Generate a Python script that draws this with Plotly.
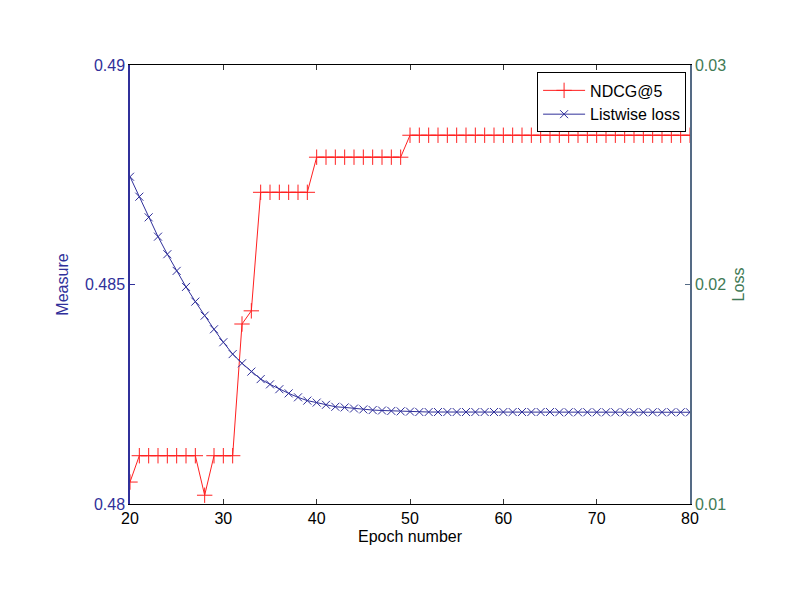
import plotly.graph_objects as go

epochs = list(range(20, 81))

ndcg5 = ([0.4805] + [0.4811] * 7 + [0.4802] + [0.4811] * 3 + [0.4841, 0.4844]
         + [0.4871] * 6 + [0.4879] * 10 + [0.4884] * 31)

listwise_loss = [0.02491, 0.02400, 0.02306, 0.02218, 0.02138, 0.02062, 0.01989,
                 0.01922, 0.01858, 0.01796, 0.01737, 0.01683, 0.01641, 0.01603,
                 0.01569, 0.01545, 0.01523, 0.01504, 0.01486, 0.01471, 0.01462,
                 0.01452, 0.01443, 0.01440, 0.01435, 0.01431, 0.01428, 0.01426,
                 0.01424, 0.01422, 0.01421] + [0.01419] * 15 + [0.01418] * 15

x_ticks = [20, 30, 40, 50, 60, 70, 80]
left_ticks = [0.48, 0.485, 0.49]
left_ticklabels = ["0.48", "0.485", "0.49"]
right_ticks = [0.01, 0.02, 0.03]
right_ticklabels = ["0.01", "0.02", "0.03"]

BLUE = "#30309a"
GREEN = "#3f7a55"
SLATE = "#556b85"
FONT = "Liberation Sans, Arial, sans-serif"

fig = go.Figure()
fig.add_trace(go.Scatter(
    x=epochs, y=ndcg5, name="NDCG@5", mode="lines+markers",
    line=dict(color="#ff2020", width=1),
    marker=dict(symbol="cross-thin", size=11, line=dict(color="#ff2020", width=1)),
    yaxis="y"))
fig.add_trace(go.Scatter(
    x=epochs, y=listwise_loss, name="Listwise loss", mode="lines+markers",
    line=dict(color=BLUE, width=1),
    marker=dict(symbol="x-thin", size=8, line=dict(color=BLUE, width=1)),
    yaxis="y2"))

fig.update_layout(
    width=805, height=608,
    margin=dict(l=130, r=115, t=65, b=104),
    paper_bgcolor="white", plot_bgcolor="white",
    font=dict(family=FONT, size=16, color="black"),
    showlegend=True,
    legend=dict(x=0.993, y=0.983, xanchor="right", yanchor="top",
                bgcolor="white", bordercolor="black", borderwidth=1,
                font=dict(family=FONT, size=16), tracegroupgap=0, itemwidth=42),
    xaxis=dict(range=[20, 80], tickvals=x_ticks, ticks="inside", ticklen=5,
               tickcolor="#333", showline=True, linecolor="black", linewidth=1,
               mirror="ticks", showgrid=False, zeroline=False,
               title=dict(text="Epoch number", standoff=4,
                          font=dict(family=FONT, size=16, color="black")),
               tickfont=dict(family=FONT, size=16, color="black")),
    yaxis=dict(range=[0.48, 0.49], tickvals=left_ticks, ticktext=left_ticklabels,
               ticks="inside", ticklen=5, tickcolor=BLUE,
               showline=True, linecolor=BLUE, linewidth=1.5,
               showgrid=False, zeroline=False,
               tickfont=dict(family=FONT, size=16, color=BLUE),
               title=dict(text="Measure", font=dict(family=FONT, size=16, color=BLUE),
                          standoff=12)),
    yaxis2=dict(range=[0.01, 0.03], tickvals=right_ticks, ticktext=right_ticklabels,
                overlaying="y", side="right", anchor="x",
                ticks="inside", ticklen=5, tickcolor=SLATE,
                showline=True, linecolor=SLATE, linewidth=1.5,
                showgrid=False, zeroline=False,
                tickfont=dict(family=FONT, size=16, color=GREEN),
                title=dict(text="Loss", font=dict(family=FONT, size=16, color=GREEN),
                           standoff=8)),
)

fig.write_html("out.html")
